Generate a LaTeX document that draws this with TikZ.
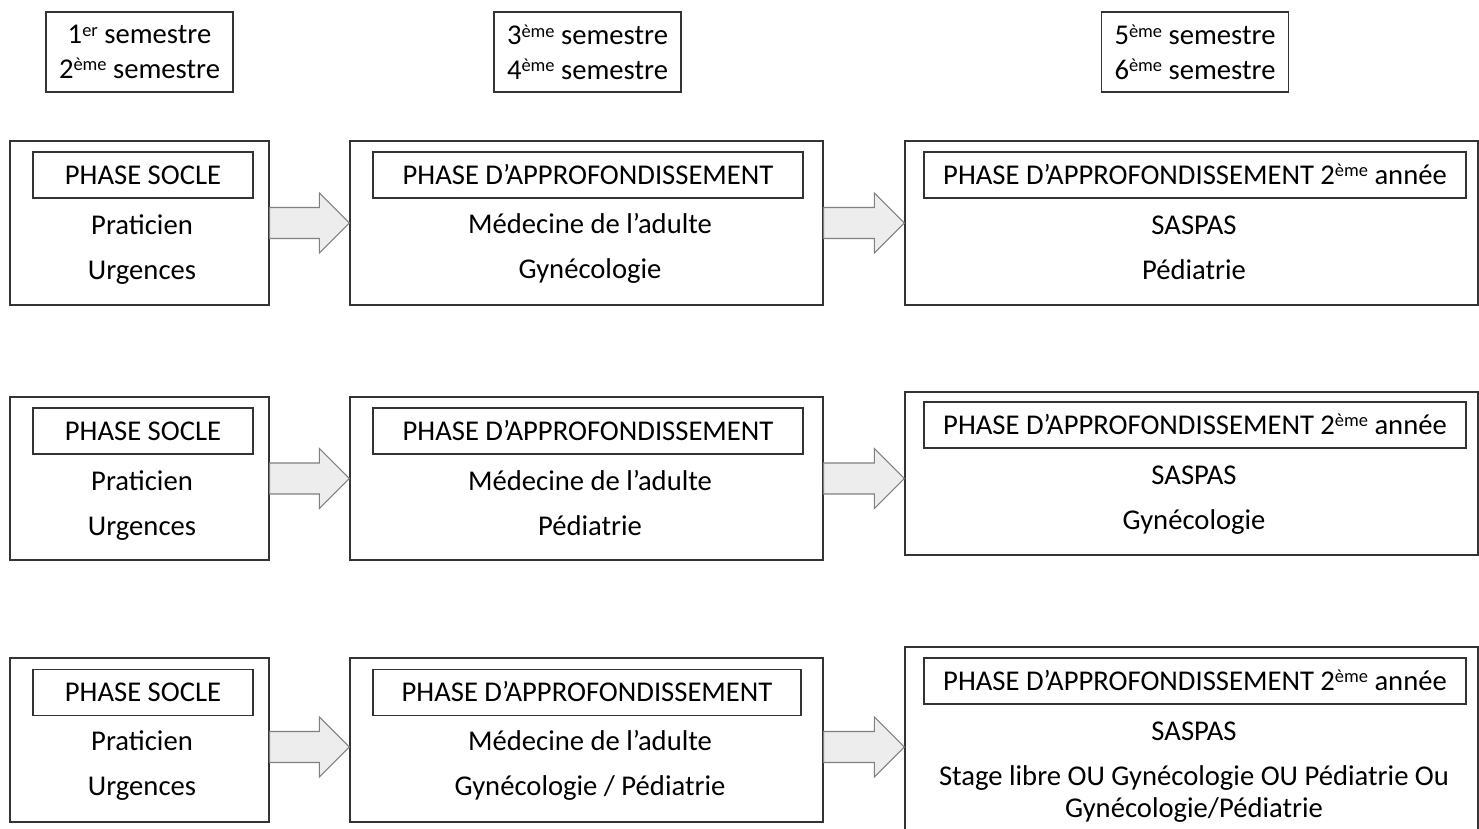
\documentclass[tikz,border=0pt]{standalone}
\usepackage{fontspec}
\setmainfont{Carlito}
\usetikzlibrary{calc}

\newcommand{\expo}[1]{\raisebox{0.55ex}{\fontsize{10.5}{10.5}\selectfont #1}}

\begin{document}
\begin{tikzpicture}[x=0.02cm, y=-0.02cm,
    font=\fontsize{16.3}{19.8}\selectfont,
    box/.style={draw=black!80, line width=0.8pt, inner sep=0pt},
    semestre/.style={box, minimum width=3.74cm, minimum height=1.6cm, align=center},
    phase/.style={box, minimum height=0.92cm, text height=10.5pt, text depth=0pt},
    txt/.style={inner sep=0pt, anchor=base},
    bigarrow/.style={draw=black!50, fill=black!7, line width=0.6pt,
        to path={let \p1=(\tikztostart), \p2=(\tikztotarget) in
            (\x1,\y1+0.31cm) -- (\x2-0.6cm,\y1+0.31cm) -- (\x2-0.6cm,\y1+0.6cm)
            -- (\x2,\y1) -- (\x2-0.6cm,\y1-0.6cm) -- (\x2-0.6cm,\y1-0.31cm)
            -- (\x1,\y1-0.31cm) -- cycle}}]

    \useasboundingbox (0,0) rectangle (1479,828);
    \clip (0,0) rectangle (1479,828);

    % Semestres
    \node[semestre] (s12) at (139.5,52) {1\expo{er} semestre\\2\expo{ème} semestre};
    \node[semestre] (s34) at (587.5,52) {3\expo{ème} semestre\\4\expo{ème} semestre};
    \node[semestre] (s56) at (1195,52) {5\expo{ème} semestre\\6\expo{ème} semestre};

    % Ligne 1
    \node[box, minimum width=5.18cm, minimum height=3.28cm] (a1) at (139.5,223) {};
    \node[phase, minimum width=4.4cm] (a1t) at (143,175) {PHASE SOCLE};
    \node[txt] (a1p) at (142,234) {Praticien};
    \node[txt] (a1u) at (142,279) {Urgences};

    \node[box, minimum width=9.46cm, minimum height=3.28cm] (b1) at (586.5,223) {};
    \node[phase, minimum width=8.6cm] (b1t) at (588,175) {PHASE D’APPROFONDISSEMENT};
    \node[txt] (b1m) at (590,233) {Médecine de l’adulte};
    \node[txt] (b1g) at (590,278) {Gynécologie};

    \node[box, minimum width=11.46cm, minimum height=3.28cm] (c1) at (1191.5,223) {};
    \node[phase, minimum width=10.84cm] (c1t) at (1195,175) {PHASE D’APPROFONDISSEMENT 2\expo{ème} année};
    \node[txt] (c1s) at (1194,234) {SASPAS};
    \node[txt] (c1p) at (1194,279) {Pédiatrie};

    \draw[bigarrow] (a1.east) to (b1.west);
    \draw[bigarrow] (b1.east) to (c1.west);

    % Ligne 2
    \node[box, minimum width=5.18cm, minimum height=3.26cm] (a2) at (139.5,478.5) {};
    \node[phase, minimum width=4.4cm] (a2t) at (143,431) {PHASE SOCLE};
    \node[txt] (a2p) at (142,490) {Praticien};
    \node[txt] (a2u) at (142,535) {Urgences};

    \node[box, minimum width=9.46cm, minimum height=3.26cm] (b2) at (586.5,478.5) {};
    \node[phase, minimum width=8.6cm] (b2t) at (588,431) {PHASE D’APPROFONDISSEMENT};
    \node[txt] (b2m) at (590,490) {Médecine de l’adulte};
    \node[txt] (b2p) at (590,535) {Pédiatrie};

    \node[box, minimum width=11.46cm, minimum height=3.26cm] (c2) at (1191.5,473.5) {};
    \node[phase, minimum width=10.84cm] (c2t) at (1195,425) {PHASE D’APPROFONDISSEMENT 2\expo{ème} année};
    \node[txt] (c2s) at (1194,484) {SASPAS};
    \node[txt] (c2g) at (1194,529) {Gynécologie};

    \draw[bigarrow] (a2.east) to (b2.west);
    \draw[bigarrow] (b2.east) to (c2.west);

    % Ligne 3
    \node[box, minimum width=5.18cm, minimum height=3.28cm] (a3) at (139.5,740) {};
    \node[phase, minimum width=4.4cm] (a3t) at (143,692.5) {PHASE SOCLE};
    \node[txt] (a3p) at (142,750) {Praticien};
    \node[txt] (a3u) at (142,795) {Urgences};

    \node[box, minimum width=9.46cm, minimum height=3.28cm] (b3) at (586.5,740) {};
    \node[phase, minimum width=8.56cm] (b3t) at (587,692.5) {PHASE D’APPROFONDISSEMENT};
    \node[txt] (b3m) at (590,750) {Médecine de l’adulte};
    \node[txt] (b3g) at (590,795) {Gynécologie / Pédiatrie};

    \node[box, minimum width=11.46cm, minimum height=3.96cm] (c3) at (1191.5,746) {};
    \node[phase, minimum width=10.84cm] (c3t) at (1195,681) {PHASE D’APPROFONDISSEMENT 2\expo{ème} année};
    \node[txt] (c3s) at (1194,740) {SASPAS};
    \node[txt] (c3l) at (1194,785) {Stage libre OU Gynécologie OU Pédiatrie Ou};
    \node[txt] (c3g) at (1194,817) {Gynécologie/Pédiatrie};

    \draw[bigarrow] ([yshift=-0.14cm]a3.east) to ([yshift=-0.14cm]b3.west);
    \draw[bigarrow] ([yshift=-0.14cm]b3.east) to ([yshift=-0.14cm]c3.west);
\end{tikzpicture}
\end{document}
